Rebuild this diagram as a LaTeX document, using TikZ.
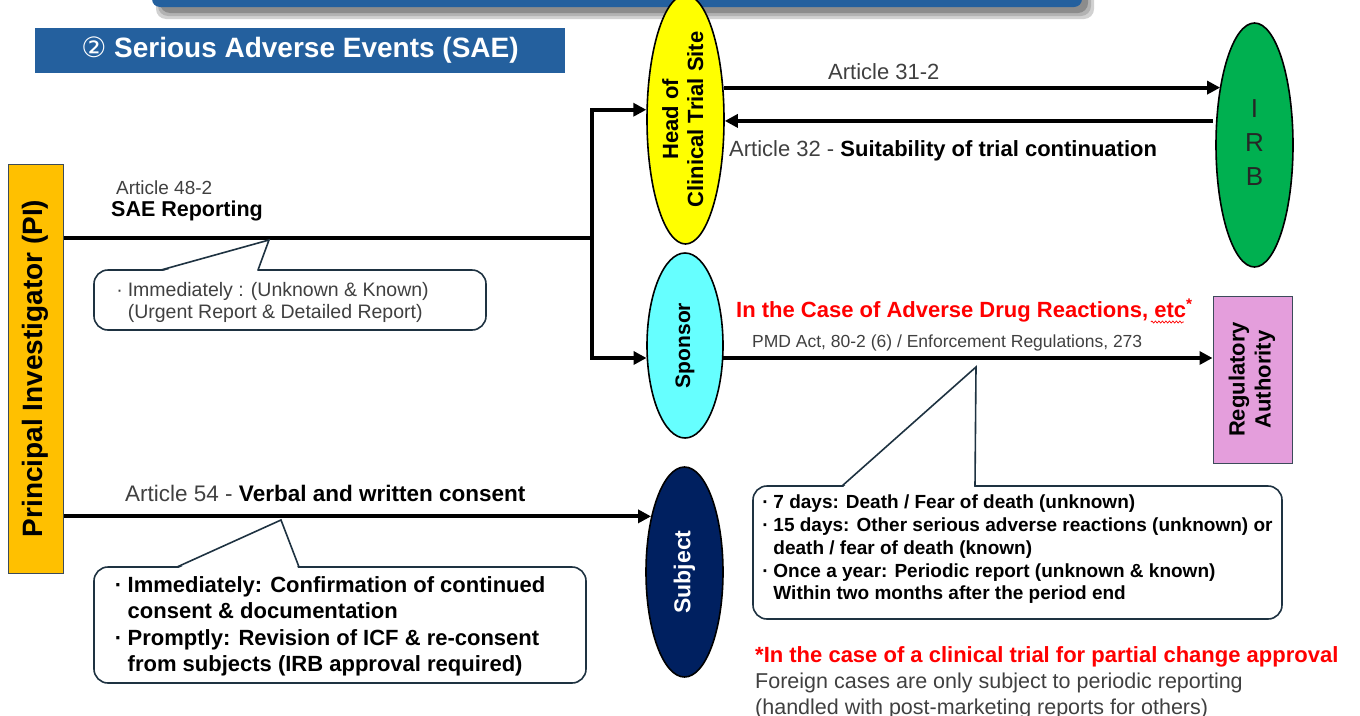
\documentclass[tikz,border=0pt]{standalone}
\usepackage{fontspec}
\setmainfont{Liberation Sans}
\newfontfamily\djv{DejaVu Sans}
\usetikzlibrary{arrows.meta,shapes.geometric,decorations.pathmorphing,calc}
\definecolor{tblue}{RGB}{36,96,158}
\definecolor{piyel}{RGB}{255,192,0}
\definecolor{headyel}{RGB}{255,255,0}
\definecolor{irbgreen}{RGB}{0,176,80}
\definecolor{spcyan}{RGB}{102,255,255}
\definecolor{subnavy}{RGB}{0,32,96}
\definecolor{regpink}{RGB}{228,158,220}
\definecolor{labgray}{RGB}{64,64,64}
\definecolor{callc}{RGB}{30,50,65}
\definecolor{boxedge}{RGB}{60,75,90}
\definecolor{redtxt}{RGB}{255,0,0}
\newcommand{\fs}[2]{\fontsize{#1}{#2}\selectfont}
\newcommand{\bul}{\makebox[0.75em][l]{\,·}}
\newcommand{\ind}{\hspace*{0.75em}}
\begin{document}
\begin{tikzpicture}[x=1pt,y=-1pt,
  conn/.style={line width=4pt,-{Triangle[length=13pt,width=13pt]}},
  wire/.style={line width=4pt},
  ell/.style={ellipse,draw=black,line width=1.6pt,inner sep=0pt},
  callbox/.style={draw=callc,line width=1.6pt,fill=white,rounded corners=14pt},
  calltail/.style={draw=callc,line width=1.6pt,line join=miter},
  txt/.style={inner sep=0pt,anchor=base west},
  blk/.style={inner sep=0pt,anchor=north west,align=left}]
\useasboundingbox (0,0) rectangle (1360,715);
\clip (0,0) rectangle (1360,715);

% top banner with shadow
\fill[rounded corners=10pt,black!18] (156,-30) rectangle (1094,19);
\fill[rounded corners=10pt,black!30] (158,-30) rectangle (1091,16);
\fill[rounded corners=10pt,black!45] (160,-30) rectangle (1088,13);
\fill[rounded corners=8pt,tblue] (152,-30) rectangle (1082,7);

% title
\node[fill=tblue,minimum width=530,minimum height=45,inner sep=0pt,text=white,
  font=\fs{28}{32}\bfseries] (title) at (300,50.5) {{\mdseries\djv ②} Serious Adverse Events (SAE)};

% main nodes
\node[draw=boxedge,line width=1pt,fill=piyel,minimum width=55,minimum height=409,inner sep=0pt]
  (pi) at (35.5,368.5) {\rotatebox{90}{\fs{28}{32}\bfseries Principal Investigator (PI)}};
\node[ell,fill=headyel,minimum width=77,minimum height=219] (head) at (685.5,119.5)
  {\rotatebox{90}{\fs{22}{25}\bfseries\begin{tabular}{@{}c@{}}Head of\\Clinical Trial Site\end{tabular}}};
\node[ell,fill=irbgreen,minimum width=77,minimum height=244] (irb) at (1254.5,145)
  {\fs{26}{34}\color{black!85}\begin{tabular}{@{}c@{}}I\\R\\B\end{tabular}};
\node[ell,fill=spcyan,minimum width=76,minimum height=185] (sponsor) at (685,345.5)
  {\rotatebox{90}{\fs{21}{24}\bfseries Sponsor}};
\node[ell,fill=subnavy,minimum width=77,minimum height=210] (subject) at (684.5,572)
  {\rotatebox{90}{\fs{23}{26}\bfseries\color{white}Subject}};
\node[draw=boxedge,line width=1pt,fill=regpink,minimum width=79,minimum height=167,inner sep=0pt]
  (reg) at (1252.5,379.5)
  {\rotatebox{90}{\fs{22}{26}\bfseries\begin{tabular}{@{}c@{}}Regulatory\\Authority\end{tabular}}};

% connectors
\coordinate (br) at (592,238);
\draw[wire] (pi.east |- br) -- (br);
\draw[conn] (br) |- (head.166.1);
\draw[conn] (br) |- (sponsor.198.4);
\draw[conn] (head.40.5) -- (irb.120.85 |- head.40.5);
\coordinate (ret) at ($(irb.148.7)+(-3,0)$);
\draw[conn] (ret) -- (head.-3.7 |- ret);
\draw[conn] (sponsor.-18.4) -- (reg.west |- sponsor.-18.4);
\draw[conn] (pi.east |- subject.121.4) -- (subject.121.4 |- pi.east |- subject.121.4);

% callout 1
\draw[callbox] (94,270) rectangle (486,330);
\fill[white] (162,271.3) -- (269,240) -- (257,271.3) -- cycle;
\draw[calltail] (161,270) -- (269,240) -- (258,270);
% callout 2
\draw[callbox] (94,567) rectangle (586,683);
\fill[white] (178,568.3) -- (281,520) -- (298,568.3) -- cycle;
\draw[calltail] (177,567) -- (281,520) -- (299,567);
% callout 3
\draw[callbox] (753,486) rectangle (1282,619);
\fill[white] (843,487.3) -- (976,367) -- (974,487.3) -- cycle;
\draw[calltail] (842,486) -- (976,367) -- (975,486);

% labels
\node[txt,font=\fs{22}{26},text=labgray] (a312) at (828,79) {Article 31-2};
\node[txt,font=\fs{22}{26}] (a32) at (729,156) {{\color{labgray}Article 32 -} \textbf{Suitability of trial continuation}};
\node[txt,font=\fs{19}{22},text=labgray] (a482) at (116,194) {Article 48-2};
\node[txt,font=\fs{21.5}{25}\bfseries] (sae) at (111,216) {SAE Reporting};
\node[blk,font=\fs{19.5}{22},text=labgray] (c1) at (113,282)
  {\bul Immediately : (Unknown \& Known)\\\ind(Urgent Report \& Detailed Report)};
\node[txt,font=\fs{22.5}{26}] (a54) at (125,501) {{\color{labgray}Article 54 -} \textbf{Verbal and written consent}};
\node[blk,font=\fs{22}{26.5}\bfseries] (c2) at (111,576)
  {\bul Immediately: Confirmation of continued\\\ind consent \& documentation\\
   \bul Promptly: Revision of ICF \& re-consent\\\ind from subjects (IRB approval required)};
\node[txt,font=\fs{22}{26}\bfseries,text=redtxt] (adr) at (736,317) {In the Case of Adverse Drug Reactions, etc\textsuperscript{*}};
\draw[redtxt,line width=0.7pt,decorate,decoration={snake,amplitude=1pt,segment length=3.5pt}]
  ($(adr.base east)+(-42,5)$) -- ($(adr.base east)+(-9,5)$);
\node[txt,font=\fs{17.5}{21},text=labgray] (pmd) at (752,347) {PMD Act, 80-2 (6) / Enforcement Regulations, 273};
\node[blk,font=\fs{19}{22.7}\bfseries] (c3) at (759,495)
  {\bul 7 days: Death / Fear of death (unknown)\\
   \bul 15 days: Other serious adverse reactions (unknown) or\\\ind death / fear of death (known)\\
   \bul Once a year: Periodic report (unknown \& known)\\\ind Within two months after the period end};
\node[txt,font=\fs{22}{26}\bfseries,text=redtxt] (foot) at (755,662) {*In the case of a clinical trial for partial change approval};
\node[txt,font=\fs{21.5}{26},text=labgray] (foreign1) at (755,688) {Foreign cases are only subject to periodic reporting};
\node[txt,font=\fs{21.5}{26},text=labgray] (foreign2) at (755,714) {(handled with post-marketing reports for others)};
\end{tikzpicture}
\end{document}
